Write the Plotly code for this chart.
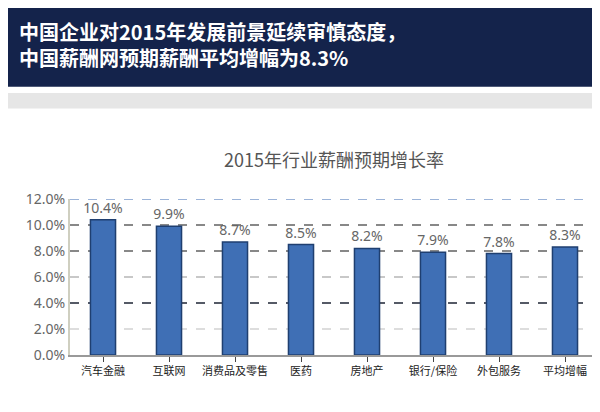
import plotly.graph_objects as go

categories = ["汽车金融", "互联网", "消费品及零售", "医药", "房地产", "银行/保险", "外包服务", "平均增幅"]
values = [10.4, 9.9, 8.7, 8.5, 8.2, 7.9, 7.8, 8.3]
labels = ["10.4%", "9.9%", "8.7%", "8.5%", "8.2%", "7.9%", "7.8%", "8.3%"]
tickvals = [0, 2, 4, 6, 8, 10, 12]
ticktext = ["0.0%", "2.0%", "4.0%", "6.0%", "8.0%", "10.0%", "12.0%"]
grid_colors = ["#dddddd", "#555a66", "#c8c8c8", "#888888", "#888888"]

fig = go.Figure(go.Bar(
    x=categories, y=values, text=labels, textposition="outside", constraintext="none",
    textfont=dict(size=14, color="#666666", family="Noto Sans"),
    marker=dict(color="#3f6fb5", line=dict(color="#1f3f70", width=1.5)),
    width=0.38, cliponaxis=False))

for v, c in zip(tickvals[1:6], grid_colors):
    fig.add_shape(type="line", xref="paper", x0=0, x1=1, yref="y", y0=v, y1=v,
                  line=dict(color=c, width=2, dash="dash"), layer="below")
fig.add_shape(type="line", xref="paper", x0=0, x1=1, yref="y", y0=12, y1=12,
              line=dict(color="#9bb3d8", width=2, dash="dash"), layer="below")
fig.add_shape(type="line", xref="paper", x0=1, x1=1, yref="y", y0=0, y1=12,
              line=dict(color="#9bb3d8", width=2, dash="dash"), layer="below")

# header
fig.add_shape(type="rect", xref="paper", yref="paper", x0=-0.2, x1=1.1, y0=1.72, y1=2.3,
              fillcolor="#14234b", line_width=0, layer="below")
fig.add_shape(type="rect", xref="paper", yref="paper", x0=-0.2, x1=1.1, y0=1.58, y1=1.68,
              fillcolor="#e6e6e6", line_width=0, layer="below")
fig.add_annotation(xref="paper", yref="paper", x=-0.1, y=1.99, xanchor="left", yanchor="middle",
                   align="left", showarrow=False,
                   text="<b>中国企业对2015年发展前景延续审慎态度，<br>中国薪酬网预期薪酬平均增幅为8.3%</b>",
                   font=dict(size=20, color="white", family="Noto Sans CJK SC"))
fig.add_annotation(xref="paper", yref="paper", x=0.5, y=1.35, showarrow=False,
                   text="2015年行业薪酬预期增长率",
                   font=dict(size=18, color="#555555", family="Noto Sans CJK SC"))

fig.update_layout(
    width=600, height=412, margin=dict(l=62, r=10, t=191, b=65),
    plot_bgcolor="white", paper_bgcolor="white", showlegend=False,
    xaxis=dict(showline=True, linecolor="#999999", linewidth=2, ticks="outside",
               tickfont=dict(size=11, color="#222222", family="Noto Sans CJK SC"), tickangle=0),
    yaxis=dict(range=[0, 12], tickvals=tickvals, ticktext=ticktext, showgrid=False,
               showline=True, linecolor="#cfcfc0", linewidth=2, zeroline=False,
               tickfont=dict(size=14, color="#666666", family="Noto Sans")),
)
fig.write_html("out.html")
